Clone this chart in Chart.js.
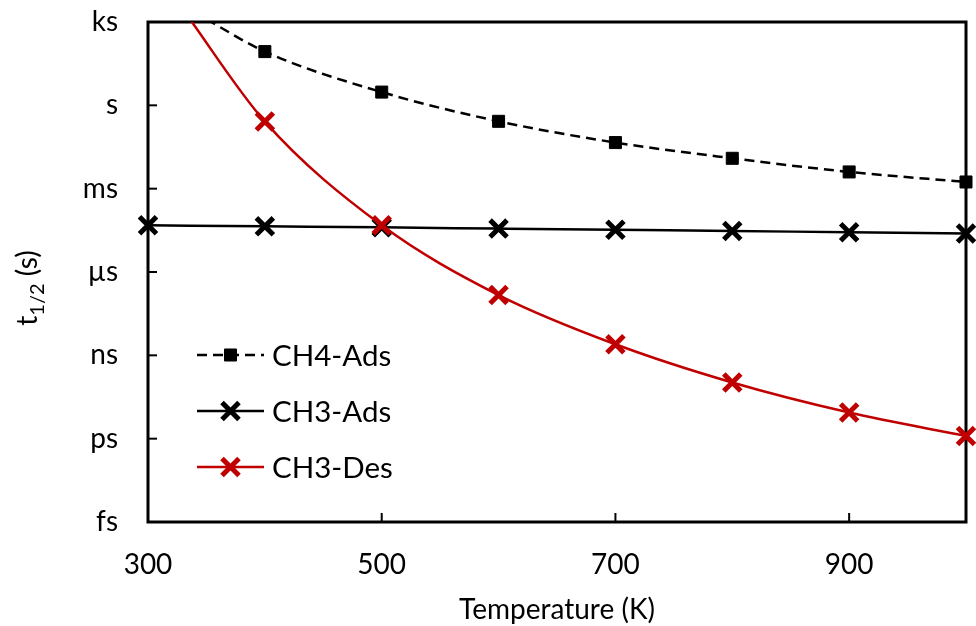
<!DOCTYPE html>
<html>
<head>
<meta charset="utf-8">
<script src="https://cdn.jsdelivr.net/npm/chart.js@4/dist/chart.umd.min.js"></script>
<style>
  html, body { margin: 0; padding: 0; background: #fff; }
  canvas { display: block; }
</style>
</head>
<body>
<canvas id="chart" width="976" height="626"></canvas>
<script>
// temperatures (K) and half-lives (s); first points of CH4-Ads / CH3-Des only carry the curve off the top
const ch4AdsT = [350, 400, 500, 600, 700, 800, 900, 1000];
const ch4Ads = [1250, 86, 3.0, 0.266, 0.0457, 0.0124, 0.0040, 0.00174];
const ch3AdsT = [300, 400, 500, 600, 700, 800, 900, 1000];
const ch3Ads = [4.8e-5, 4.4e-5, 4.05e-5, 3.65e-5, 3.3e-5, 3.0e-5, 2.7e-5, 2.45e-5];
const ch3DesT = [330, 400, 500, 600, 700, 800, 900, 1000];
const ch3Des = [2800, 0.26, 4.8e-5, 1.48e-7, 2.5e-9, 1.05e-10, 8.7e-12, 1.25e-12];

const xTicks = [300, 500, 700, 900];
const yTicks = [1e-15, 1e-12, 1e-9, 1e-6, 1e-3, 1, 1e3];
const yTickLabels = ['fs', 'ps', 'ns', 'µs', 'ms', 's', 'ks'];

const FONT = 'Lato';
const RED = '#C00000';

function pts(xs, ys) { return xs.map((x, i) => ({ x: x, y: ys[i] })); }

// frame, inward ticks, titles and the in-plot legend
const framePlugin = {
  id: 'frame',
  beforeDatasetsDraw(chart) {
    const { ctx, chartArea: a, scales } = chart;
    ctx.save();
    ctx.strokeStyle = '#000';
    ctx.lineWidth = 2;
    xTicks.forEach(v => {
      const x = scales.x.getPixelForValue(v);
      ctx.beginPath(); ctx.moveTo(x, a.bottom); ctx.lineTo(x, a.bottom - 9); ctx.stroke();
    });
    yTicks.forEach(v => {
      const y = scales.y.getPixelForValue(v);
      ctx.beginPath(); ctx.moveTo(a.left, y); ctx.lineTo(a.left + 9, y); ctx.stroke();
    });
    ctx.lineWidth = 3;
    ctx.strokeRect(a.left, a.top, a.right - a.left, a.bottom - a.top);
    ctx.restore();
  },
  afterDraw(chart) {
    const { ctx, chartArea: a } = chart;
    ctx.save();
    ctx.fillStyle = '#000';
    // x title
    ctx.font = '28px ' + FONT;
    ctx.textAlign = 'center';
    ctx.textBaseline = 'alphabetic';
    ctx.fillText('Temperature (K)', (a.left + a.right) / 2, 619);
    // y title with subscript
    const main = '28px ' + FONT, sub = '20px ' + FONT;
    ctx.font = main; const wT = ctx.measureText('t').width;
    const wP = ctx.measureText(' (s)').width;
    ctx.font = sub; const wS = ctx.measureText('1/2').width;
    const total = wT + wS + wP;
    ctx.translate(37, 288 + total / 2);
    ctx.rotate(-Math.PI / 2);
    ctx.textAlign = 'left';
    ctx.font = main; ctx.fillText('t', 0, 0);
    ctx.font = sub; ctx.fillText('1/2', wT, 7);
    ctx.font = main; ctx.fillText(' (s)', wT + wS, 0);
    ctx.restore();
    // legend
    ctx.save();
    const x0 = a.left + 49, x1 = x0 + 67, xm = (x0 + x1) / 2;
    chart.data.datasets.forEach((ds, i) => {
      const y = 355 + i * 56;
      ctx.strokeStyle = ds.borderColor;
      ctx.lineWidth = ds.borderWidth;
      ctx.setLineDash(ds.borderDash || []);
      ctx.beginPath(); ctx.moveTo(x0, y); ctx.lineTo(x1, y); ctx.stroke();
      ctx.setLineDash([]);
      ctx.fillStyle = ds.pointBackgroundColor;
      ctx.strokeStyle = ds.pointBorderColor;
      ctx.lineWidth = ds.pointBorderWidth;
      const r = Array.isArray(ds.pointRadius) ? ds.pointRadius[ds.pointRadius.length - 1] : ds.pointRadius;
      Chart.helpers.drawPoint(ctx, { pointStyle: ds.pointStyle, radius: r, borderWidth: ds.pointBorderWidth, rotation: 0 }, xm, y);
      ctx.fillStyle = '#000';
      ctx.font = '29.5px ' + FONT;
      ctx.textAlign = 'left';
      ctx.textBaseline = 'middle';
      ctx.fillText(ds.label, x1 + 8, y + 1);
    });
    ctx.restore();
  }
};

new Chart(document.getElementById('chart'), {
  type: 'line',
  data: {
    datasets: [
      {
        label: 'CH4-Ads', data: pts(ch4AdsT, ch4Ads),
        borderColor: '#000', borderWidth: 2.5, borderDash: [10, 6],
        pointStyle: 'rect', pointRadius: ch4AdsT.map(t => t < 400 ? 0 : 8.5),
        pointBackgroundColor: '#000', pointBorderColor: '#000', pointBorderWidth: 1,
        cubicInterpolationMode: 'monotone', order: 2
      },
      {
        label: 'CH3-Ads', data: pts(ch3AdsT, ch3Ads),
        borderColor: '#000', borderWidth: 2.5,
        pointStyle: 'crossRot', pointRadius: 12,
        pointBackgroundColor: '#000', pointBorderColor: '#000', pointBorderWidth: 5,
        cubicInterpolationMode: 'monotone', order: 1
      },
      {
        label: 'CH3-Des', data: pts(ch3DesT, ch3Des),
        borderColor: RED, borderWidth: 2.5,
        pointStyle: 'crossRot', pointRadius: ch3DesT.map(t => t < 400 ? 0 : 12),
        pointBackgroundColor: RED, pointBorderColor: RED, pointBorderWidth: 5,
        cubicInterpolationMode: 'monotone', order: 0
      }
    ]
  },
  options: {
    responsive: false,
    devicePixelRatio: 1,
    animation: false,
    events: [],
    clip: { left: 20, right: 20, top: 0, bottom: 0 },
    layout: { autoPadding: false, padding: { top: 22, right: 10, left: 0, bottom: 0 } },
    plugins: { legend: { display: false }, tooltip: { enabled: false } },
    scales: {
      x: {
        type: 'linear', min: 300, max: 1000,
        afterFit: s => { s.height = 104; s.paddingLeft = 0; s.paddingRight = 0; },
        afterBuildTicks: s => { s.ticks = xTicks.map(v => ({ value: v })); },
        grid: { display: false, drawTicks: false },
        border: { display: false },
        ticks: { color: '#000', font: { family: FONT, size: 28 }, padding: 26, maxRotation: 0 }
      },
      y: {
        type: 'logarithmic', min: 1e-15, max: 1e3,
        afterFit: s => { s.width = 148; s.paddingTop = 0; s.paddingBottom = 0; },
        afterBuildTicks: s => { s.ticks = yTicks.map(v => ({ value: v })); },
        grid: { display: false, drawTicks: false },
        border: { display: false },
        ticks: {
          color: '#000', font: { family: FONT, size: 28 }, padding: 30,
          callback: v => yTickLabels[yTicks.findIndex(t => Math.abs(Math.log10(t) - Math.log10(v)) < 1e-6)]
        }
      }
    }
  },
  plugins: [framePlugin]
});
</script>
</body>
</html>
